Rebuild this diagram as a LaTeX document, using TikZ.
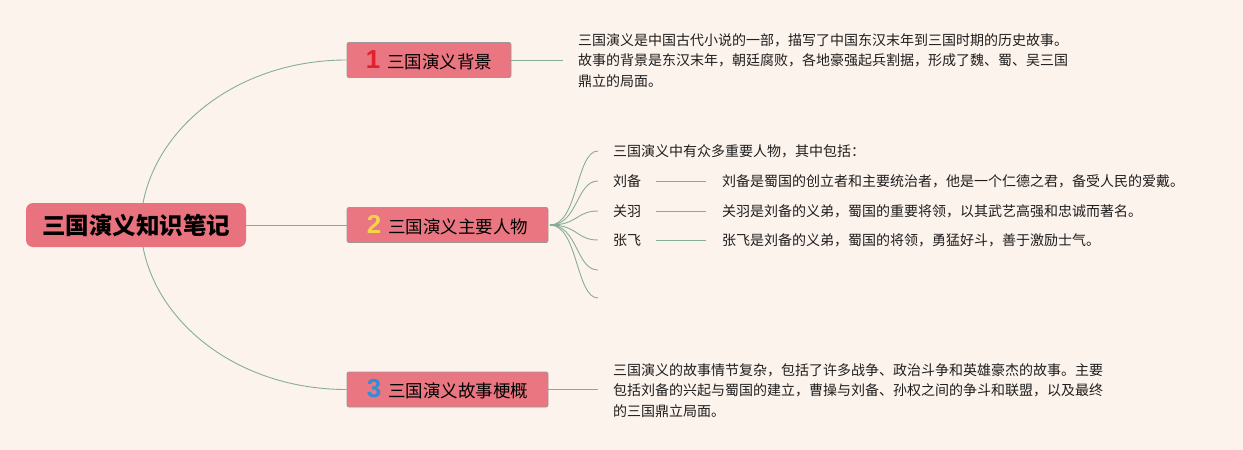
\documentclass[tikz,border=0pt]{standalone}
\usepackage{fontspec}
\setmainfont{Noto Sans CJK SC}
\newfontfamily\numfont{Liberation Sans}
\definecolor{bgc}{RGB}{253,243,237}
\definecolor{rootc}{RGB}{232,115,127}
\definecolor{boxc}{RGB}{233,118,128}
\definecolor{boxline}{RGB}{160,150,150}
\definecolor{linkc}{RGB}{134,173,152}
\definecolor{textc}{RGB}{30,30,30}
\definecolor{numone}{RGB}{224,32,44}
\definecolor{numtwo}{RGB}{247,213,74}
\definecolor{numthree}{RGB}{46,143,216}
\tikzset{
  rootbox/.style={fill=rootc, rounded corners=7pt, minimum width=220pt, minimum height=44pt, inner sep=0pt, text=black, font=\fontsize{23.5}{28}\selectfont\bfseries},
  branchbox/.style={fill=boxc, draw=boxline, line width=0.8pt, rounded corners=2pt, minimum height=35pt, inner sep=0pt, text=black, font=\fontsize{17.5}{21}\selectfont},
  link/.style={draw=linkc, line width=0.9pt},
  desc/.style={font=\fontsize{14}{20.5}\selectfont, text=textc, align=left, anchor=west, inner sep=0pt},
  num/.style={font=\numfont\fontsize{26}{26}\selectfont\bfseries}
}
\begin{document}
\begin{tikzpicture}[x=1pt,y=-1pt]
\useasboundingbox (0,0) rectangle (1243,450);
\fill[bgc] (0,0) rectangle (1243,450);

% root
\node[rootbox] (root) at (136,225) {三国演义知识笔记};

% branches
\node[branchbox, minimum width=164pt] (b1) at (429,60) {{\numfont\fontsize{26}{26}\selectfont\bfseries\color{numone}1}\hspace{7pt}三国演义背景};
\node[branchbox, minimum width=201pt] (b2) at (447.5,225) {{\numfont\fontsize{26}{26}\selectfont\bfseries\color{numtwo}2}\hspace{7pt}三国演义主要人物};
\node[branchbox, minimum width=201pt] (b3) at (447.5,389.5) {{\numfont\fontsize{26}{26}\selectfont\bfseries\color{numthree}3}\hspace{7pt}三国演义故事梗概};

% root connectors
\coordinate (rt) at (143,203);
\coordinate (rb) at (143,247);
\draw[link] (rt) .. controls (158,125) and (240,60) .. (b1.west);
\draw[link] (root.east) -- (b2.west);
\draw[link] (rb) .. controls (158,325) and (240,389.5) .. (b3.west);

% branch 1 text
\coordinate (t1) at (563,60);
\draw[link] (b1.east) -- (t1);
\node[desc] (d1) at (578,60.5) {三国演义是中国古代小说的一部，描写了中国东汉末年到三国时期的历史故事。\\故事的背景是东汉末年，朝廷腐败，各地豪强起兵割据，形成了魏、蜀、吴三国\\鼎立的局面。};

% branch 2 fan
\coordinate (fo) at (550,225);
\foreach \i/\y in {1/151,2/181,3/211,4/240,5/270,6/298}{
  \coordinate (f\i) at (598,\y);
  \draw[link] (fo) .. controls (578,225) and (576,\y) .. (f\i);
}
\node[desc] (p0) at (613,151) {三国演义中有众多重要人物，其中包括：};
\node[desc] (p1) at (613,181) {刘备};
\node[desc] (p2) at (613,211) {关羽};
\node[desc] (p3) at (613,240) {张飞};
\node[desc] (q1) at (722,181) {刘备是蜀国的创立者和主要统治者，他是一个仁德之君，备受人民的爱戴。};
\node[desc] (q2) at (722,211) {关羽是刘备的义弟，蜀国的重要将领，以其武艺高强和忠诚而著名。};
\node[desc] (q3) at (722,240) {张飞是刘备的义弟，蜀国的将领，勇猛好斗，善于激励士气。};
\draw[link, shorten <=15pt, shorten >=16pt] (p1.east) -- (q1.west);
\draw[link, shorten <=15pt, shorten >=16pt] (p2.east) -- (q2.west);
\draw[link, shorten <=15pt, shorten >=16pt] (p3.east) -- (q3.west);

% branch 3 text
\coordinate (t3) at (598,389.5);
\draw[link] (b3.east) -- (t3);
\node[desc] (d3) at (613,390.5) {三国演义的故事情节复杂，包括了许多战争、政治斗争和英雄豪杰的故事。主要\\包括刘备的兴起与蜀国的建立，曹操与刘备、孙权之间的争斗和联盟，以及最终\\的三国鼎立局面。};
\end{tikzpicture}
\end{document}
